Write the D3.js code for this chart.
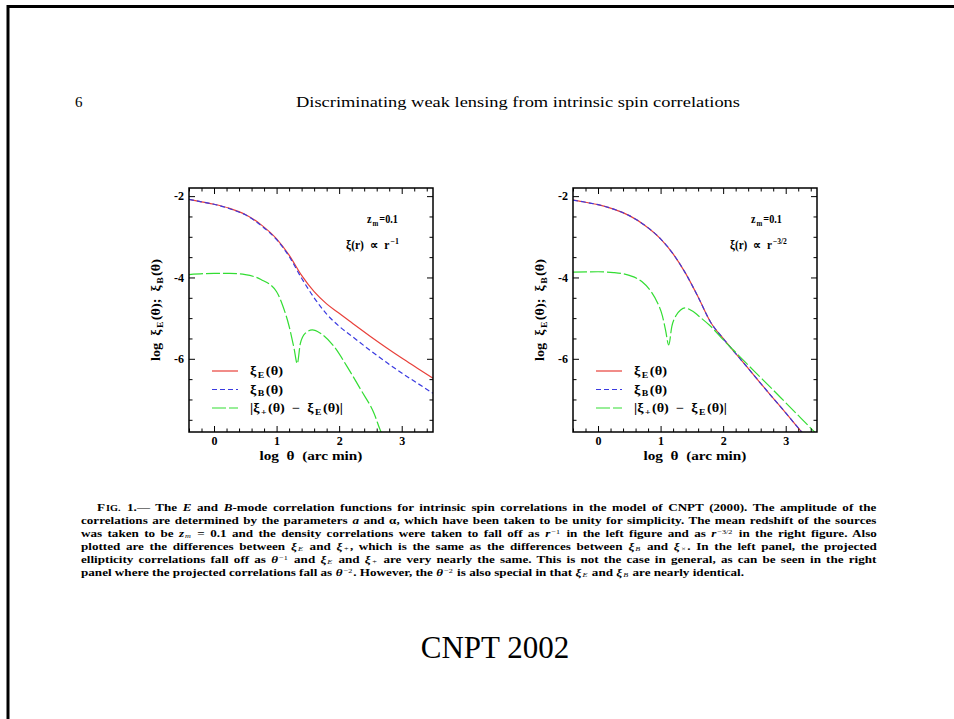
<!DOCTYPE html>
<html><head><meta charset="utf-8">
<script src="https://cdn.jsdelivr.net/npm/d3@7"></script>
<style>body{margin:0;background:#fff}svg{display:block}</style>
</head><body>
<svg id="page" width="954" height="719"></svg>
<script>
// Axis set-up shared by both panels
const xTickValues = [0, 1, 2, 3];
const yTickValues = [-2, -4, -6];
const xDomain = [-0.4, 3.5];
const yDomain = [-7.8, -1.8];

// Left panel: xi(r) ∝ r^-1
const leftTheta = [-0.4, -0.2, 0, 0.25, 0.5, 0.75, 1.0, 1.2, 1.4, 1.6, 1.8, 2.0, 2.25, 2.5, 2.75, 3.0, 3.25, 3.5];
const leftXiE   = [-2.08, -2.14, -2.2, -2.3, -2.45, -2.7, -3.05, -3.45, -3.95, -4.35, -4.65, -4.88, -5.17, -5.45, -5.72, -5.98, -6.23, -6.48];
const leftXiB   = [-2.08, -2.14, -2.2, -2.31, -2.46, -2.72, -3.07, -3.48, -4.02, -4.5, -4.9, -5.2, -5.5, -5.8, -6.08, -6.35, -6.6, -6.85];
const leftDiffTheta = [-0.4, 0, 0.25, 0.5, 0.75, 1.0, 1.1, 1.2, 1.28, 1.33, 1.38, 1.46, 1.57, 1.7, 1.92, 2.13, 2.35, 2.56, 2.67, 2.75];
const leftDiff      = [-3.93, -3.9, -3.9, -3.93, -4.05, -4.35, -4.7, -5.2, -5.75, -6.12, -5.62, -5.37, -5.29, -5.37, -5.7, -6.2, -6.77, -7.35, -7.8, -8.0];

// Right panel: xi(r) ∝ r^-3/2
const rightTheta = [-0.4, -0.2, 0, 0.25, 0.5, 0.75, 1.0, 1.2, 1.4, 1.6, 1.8, 2.0, 2.25, 2.5, 2.75, 3.0, 3.25, 3.4];
const rightXiE   = [-2.1, -2.15, -2.21, -2.32, -2.48, -2.72, -3.05, -3.42, -3.9, -4.48, -5.1, -5.5, -5.96, -6.42, -6.88, -7.33, -7.79, -8.05];
const rightXiB   = [-2.1, -2.15, -2.21, -2.32, -2.48, -2.72, -3.05, -3.42, -3.9, -4.48, -5.1, -5.5, -5.96, -6.42, -6.88, -7.33, -7.79, -8.05];
const rightDiffTheta = [-0.4, 0, 0.25, 0.5, 0.7, 0.85, 0.95, 1.03, 1.08, 1.13, 1.18, 1.25, 1.32, 1.39, 1.5, 1.65, 1.8, 2.0, 2.25, 2.5, 2.75, 3.0, 3.25, 3.5];
const rightDiff      = [-3.87, -3.86, -3.88, -3.95, -4.1, -4.35, -4.62, -4.95, -5.3, -5.66, -5.2, -4.93, -4.8, -4.75, -4.82, -5.0, -5.2, -5.53, -5.92, -6.31, -6.69, -7.08, -7.47, -7.86];

const legendLabels = ["ξ_{E}(θ)", "ξ_{B}(θ)", "|ξ_{+}(θ)  −  ξ_{E}(θ)|"];
const legendWidths = [33, 33, 93];

const captionLines = [
  "F~{IG.} 1.— The *E* and *B*-mode correlation functions for intrinsic spin correlations in the model of CNPT (2000). The amplitude of the",
  "correlations are determined by the parameters *a* and α, which have been taken to be unity for simplicity. The mean redshift of the sources",
  "was taken to be *z*_{m} = 0.1 and the density correlations were taken to fall off as *r*^{−1} in the left figure and as *r*^{−3/2} in the right figure. Also",
  "plotted are the differences between *ξ*_{E} and *ξ*_{+}, which is the same as the differences between *ξ*_{B} and *ξ*_{×}. In the left panel, the projected",
  "ellipticity correlations fall off as *θ*^{−1} and *ξ*_{E} and *ξ*_{+} are very nearly the same. This is not the case in general, as can be seen in the right",
  "panel where the projected correlations fall as *θ*^{−2}. However, the *θ*^{−2} is also special in that *ξ*_{E} and *ξ*_{B} are nearly identical."
];

const COLORS = { E: "#e8403a", B: "#3a3ae0", D: "#33dd33" };
const SERIF = "'Liberation Serif', 'Times New Roman', serif";

const svg = d3.select("#page");
svg.append("rect").attr("width", 954).attr("height", 719).attr("fill", "#fff");

// page frame
svg.append("rect").attr("x", 8).attr("y", 6.5).attr("width", 980).attr("height", 760)
  .attr("fill", "none").attr("stroke", "#000").attr("stroke-width", 3);

// Set a run of text with light markup: *it*, _{sub}, ^{sup}, ~{smallcaps}.
// Each piece is its own <text>, laid out side by side from measured advances;
// scripts get a hair of space on either side, like TeX's italic correction.
function rich(parent, str, size, opts = {}) {
  const re = /(\*[^*]*\*|_\{[^}]*\}|\^\{[^}]*\}|~\{[^}]*\})/;
  const subShift = opts.subShift ?? 0.22, supShift = opts.supShift ?? -0.38;
  const scriptSize = opts.scriptSize ?? 0.68;
  const pad = opts.pad ?? 1.2;
  const g = parent.append("g");
  const segs = str.split(re).filter(s => s.length).map(p => {
    let t = p, kind = "n";
    if (p[0] === "*") { t = p.slice(1, -1); kind = "it"; }
    else if (p.startsWith("_{")) { t = p.slice(2, -1); kind = "sub"; }
    else if (p.startsWith("^{")) { t = p.slice(2, -1); kind = "sup"; }
    else if (p.startsWith("~{")) { t = p.slice(2, -1); kind = "sc"; }
    const script = kind === "sub" || kind === "sup";
    const el = g.append("text").text(t).style("white-space", "pre")
      .attr("font-family", SERIF)
      .attr("font-weight", (kind === "sub" && opts.subBold) || (!script && opts.bold) || (script && opts.bold && !opts.subItalic) ? "bold" : "normal")
      .attr("font-style", kind === "it" || (kind === "sub" && opts.subItalic) ? "italic" : "normal")
      .attr("font-size", size * (script ? scriptSize : kind === "sc" ? 0.78 : 1));
    const dy = kind === "sub" ? subShift * size : kind === "sup" ? supShift * size : 0;
    const gap = script || kind === "sc" ? pad : 0;
    return { el, dy, gap, nat: el.node().getComputedTextLength() + 2 * gap,
             spaces: (t.match(/ /g) || []).length };
  });
  let total = d3.sum(segs, s => s.nat);
  let ws = 0;
  if (opts.justify) {
    ws = (opts.justify - total) / d3.sum(segs, s => s.spaces);
    total = opts.justify;
  }
  let cx = 0;
  segs.forEach(s => {
    s.el.attr("x", cx + s.gap).attr("y", s.dy);
    if (ws) s.el.attr("word-spacing", ws);
    cx += s.nat + ws * s.spaces;
  });
  const sx = opts.fit ? opts.fit / total : (opts.sx || 1);
  const x0 = opts.anchor === "middle" ? -total * sx / 2 : 0;
  g.attr("transform", `translate(${opts.x || 0},${opts.y || 0})` +
    (opts.rotate ? ` rotate(${opts.rotate})` : "") + ` translate(${x0},0) scale(${sx},1)`);
  return g;
}

// running head
svg.append("text").attr("x", 75).attr("y", 107).attr("font-family", SERIF)
  .attr("font-size", 15).text("6");
svg.append("text").attr("x", 296).attr("y", 107).attr("font-family", SERIF)
  .attr("font-size", 15).attr("textLength", 444).attr("lengthAdjust", "spacingAndGlyphs")
  .text("Discriminating weak lensing from intrinsic spin correlations");

const TOP = 188, SIZE = 244;

function drawPanel(left, thetaEB, xiE, xiB, diffTheta, diff, lawLabel, lawWidth) {
  const g = svg.append("g").attr("transform", `translate(${left},${TOP})`);
  const x = d3.scaleLinear().domain(xDomain).range([0, SIZE]);
  const y = d3.scaleLinear().domain(yDomain).range([SIZE, 0]);
  const clipId = "clip" + left;
  g.append("clipPath").attr("id", clipId).append("rect").attr("width", SIZE).attr("height", SIZE);
  const plot = g.append("g").attr("clip-path", `url(#${clipId})`);

  const line = d3.line().x(d => x(d[0])).y(d => y(d[1])).curve(d3.curveMonotoneX);
  plot.append("path").datum(d3.zip(thetaEB, xiE)).attr("d", line)
    .attr("fill", "none").attr("stroke", COLORS.E).attr("stroke-width", 1.2);
  plot.append("path").datum(d3.zip(thetaEB, xiB)).attr("d", line)
    .attr("fill", "none").attr("stroke", COLORS.B).attr("stroke-width", 1.2)
    .attr("stroke-dasharray", "5,3");
  plot.append("path").datum(d3.zip(diffTheta, diff)).attr("d", line)
    .attr("fill", "none").attr("stroke", COLORS.D).attr("stroke-width", 1.2)
    .attr("stroke-dasharray", "14,3");

  // ticks on all four sides, pointing inward
  const xMinor = d3.range(-4, 35, 2).map(v => v / 10).filter(v => !xTickValues.includes(v));
  const yMinor = d3.range(-15, -3, 1).map(v => v / 2).filter(v => !yTickValues.includes(v));
  const fmt = d => d3.format("d")(d).replace("−", "-");

  const axes = [
    [d3.axisBottom(x).tickValues(xTickValues).tickSize(-6).tickPadding(4).tickFormat(fmt), `translate(0,${SIZE})`],
    [d3.axisBottom(x).tickValues(xMinor).tickSize(-3.5).tickFormat(""), `translate(0,${SIZE})`],
    [d3.axisTop(x).tickValues(xTickValues).tickSize(-6).tickFormat(""), null],
    [d3.axisTop(x).tickValues(xMinor).tickSize(-3.5).tickFormat(""), null],
    [d3.axisLeft(y).tickValues(yTickValues).tickSize(-6).tickPadding(5).tickFormat(fmt), null],
    [d3.axisLeft(y).tickValues(yMinor).tickSize(-3.5).tickFormat(""), null],
    [d3.axisRight(y).tickValues(yTickValues).tickSize(-6).tickFormat(""), `translate(${SIZE},0)`],
    [d3.axisRight(y).tickValues(yMinor).tickSize(-3.5).tickFormat(""), `translate(${SIZE},0)`]
  ];
  axes.forEach(([ax, tr]) => {
    const a = g.append("g").call(ax);
    if (tr) a.attr("transform", tr);
    a.select(".domain").remove();
    a.selectAll("line").attr("stroke", "#000").attr("stroke-width", 1);
    a.selectAll("text").attr("font-family", SERIF).attr("font-size", 12)
      .attr("font-weight", "bold").attr("fill", "#000");
  });

  g.append("rect").attr("width", SIZE).attr("height", SIZE)
    .attr("fill", "none").attr("stroke", "#000").attr("stroke-width", 1.5);

  // axis titles
  rich(g, "log  θ  (arc min)", 13, { bold: true, x: SIZE / 2, y: 272, anchor: "middle", fit: 103 });
  rich(g, "log  ξ_{E}(θ);  ξ_{B}(θ)", 13,
    { bold: true, subBold: true, x: -29, y: SIZE / 2, rotate: -90, anchor: "middle", fit: 102 });

  // model annotations
  rich(g, "z_{m}=0.1", 12, { bold: true, x: 178, y: 35, fit: 31 });
  rich(g, lawLabel, 12, { bold: true, x: 157, y: 61, fit: lawWidth });

  // legend
  const styles = [[COLORS.E, null], [COLORS.B, "5,3"], [COLORS.D, "14,3"]];
  legendLabels.forEach((lab, i) => {
    const ly = 183 + i * 18.5;
    g.append("line").attr("x1", 23).attr("x2", 49).attr("y1", ly).attr("y2", ly)
      .attr("stroke", styles[i][0]).attr("stroke-width", 1.2)
      .attr("stroke-dasharray", styles[i][1]);
    rich(g, lab, 12, { bold: true, subBold: true, x: 61, y: ly + 4, fit: legendWidths[i] });
  });
}

drawPanel(189, leftTheta, leftXiE, leftXiB, leftDiffTheta, leftDiff, "ξ(r)  ∝  r^{−1}", 54);
drawPanel(573, rightTheta, rightXiE, rightXiB, rightDiffTheta, rightDiff, "ξ(r)  ∝  r^{−3/2}", 58);

// caption, justified between x=81 and x=877; glyphs widened slightly so
// the 13px line pitch leaves clear room between lines
const CAP_L = 81, CAP_R = 877, CAP_FS = 10.3;
const capProbe = svg.append("text").attr("font-family", SERIF).attr("font-weight", "bold")
  .attr("font-size", CAP_FS).text(captionLines[1].replace(/\*/g, ""));
const capStretch = (CAP_R - CAP_L) / capProbe.node().getComputedTextLength() * 0.965;
capProbe.remove();

captionLines.forEach((s, i) => {
  const start = i === 0 ? 97 : CAP_L;
  rich(svg, s, CAP_FS, {
    bold: true, subItalic: true, subShift: 0.08, supShift: -0.3, scriptSize: 0.62, pad: 0.8,
    x: start, y: 511 + i * 13, sx: capStretch,
    justify: i < captionLines.length - 1 ? (CAP_R - start) / capStretch : null
  });
});

// footer
svg.append("text").attr("x", 495).attr("y", 658).attr("text-anchor", "middle")
  .attr("font-family", SERIF).attr("font-size", 31).text("CNPT 2002");
</script>
</body></html>
